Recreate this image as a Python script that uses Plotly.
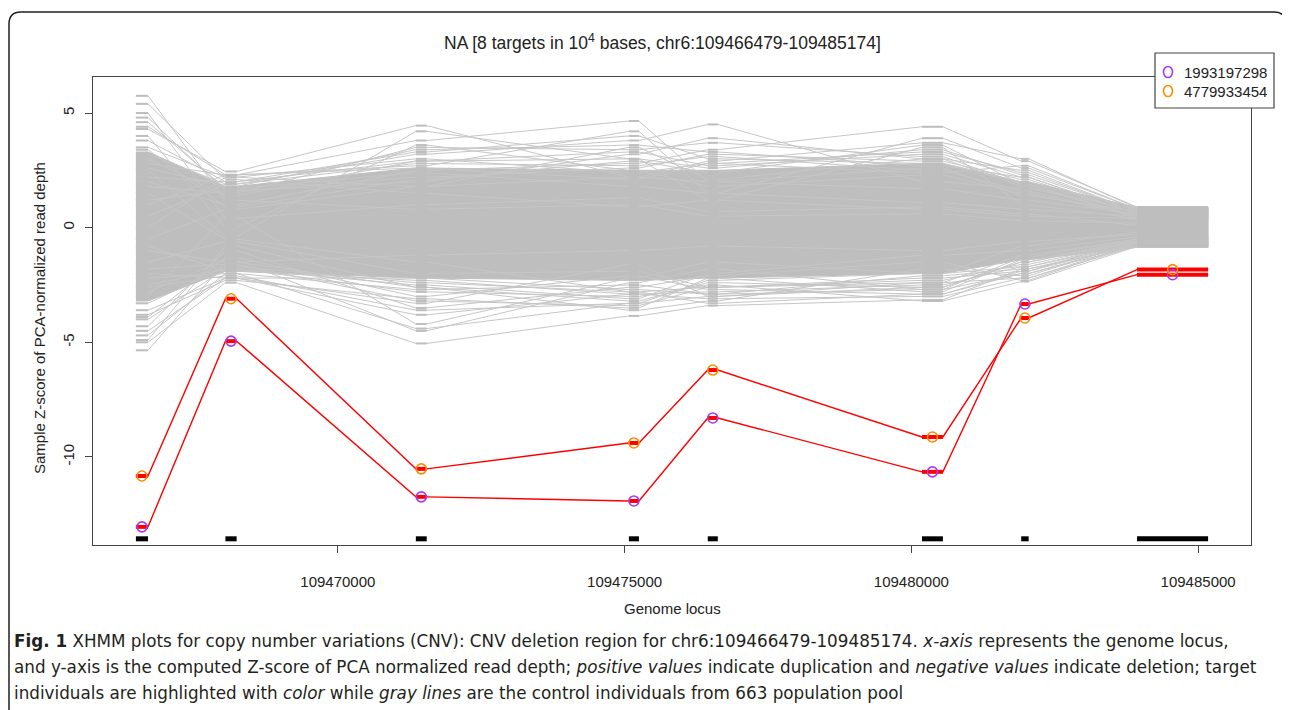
import plotly.graph_objects as go

# ---------------- data ----------------
target_start = [109466479, 109468040, 109471360, 109475075, 109476450, 109480185, 109481915, 109483935]
target_end   = [109466690, 109468235, 109471550, 109475250, 109476625, 109480550, 109482045, 109485174]

sample_names = ["1993197298", "4779933454"]
sample_1993197298 = [-13.05, -4.95, -11.74, -11.92, -8.30, -10.65, -3.33, -2.05]
sample_4779933454 = [-10.83, -3.10, -10.52, -9.39, -6.21, -9.13, -3.94, -1.83]

# dense core of the 663 control individuals (per target)
control_core_upper = [3.3, 1.8, 2.6, 2.5, 2.5, 2.8, 2.0, 0.88]
control_core_lower = [-3.2, -1.9, -2.2, -2.3, -2.2, -2.0, -1.4, -0.86]

# individual control lines visible outside the dense core
control_lines = [
    [5.75, 1.2, 0.8, 1.0, 0.5, 0.6, 0.3, 0.2],
    [5.4, 2.1, 1.5, 0.9, 1.2, 0.8, 0.5, 0.4],
    [5.0, 0.4, 1.0, 1.3, 0.7, 0.9, 0.6, 0.1],
    [4.6, 1.7, 2.4, 1.8, 1.5, 1.1, 0.8, 0.5],
    [4.3, 2.45, 4.45, 2.2, 2.0, 1.7, 1.2, 0.6],
    [-5.35, -1.5, -1.2, -1.0, -0.8, -1.0, -0.6, -0.3],
    [-5.0, -2.4, -5.05, -3.85, -3.4, -3.15, -1.8, -0.8],
    [-4.7, -2.0, -4.4, -3.3, -3.0, -2.4, -1.2, -0.5],
    [-4.3, -1.0, -3.5, -2.6, -2.1, -1.5, -2.3, -0.7],
    [-3.8, -2.3, -3.1, -3.5, -2.2, -2.8, -1.4, -0.6],
    [1.0, 2.3, 3.8, 4.65, 2.0, 2.6, 1.4, 0.7],
    [0.5, 1.9, 3.2, 3.8, 4.5, 2.0, 1.7, 0.8],
    [2.0, 1.0, 2.5, 2.8, 3.4, 4.4, 2.9, 0.9],
    [-0.5, 0.8, 1.8, 2.2, 2.9, 3.7, 3.0, 0.85],
    [1.5, -0.5, -1.5, -2.8, -3.3, -2.9, -2.0, -0.8],
    [-2.5, -1.8, -2.8, -3.0, -2.5, -3.2, -2.35, -0.82],
    [3.0, 1.4, 2.9, 3.3, 2.7, 3.2, 2.2, 0.6],
    [-1.5, -0.6, -2.0, -1.9, -2.6, -2.2, -1.9, -0.5],
    [2.5, -0.4, 4.2, 3.0, 1.2, 3.5, 1.0, 0.4],
    [-3.0, 0.5, -4.2, -2.2, -1.5, -2.0, -0.8, -0.2],
    [3.5, 2.2, 1.8, 3.5, 2.1, 3.0, 2.5, 0.7],
    [-2.0, -2.2, -3.3, -1.6, -3.0, -2.6, -1.5, -0.6],
    [4.0, 0.0, 3.6, 2.5, 1.8, 2.3, 1.5, 0.5],
    [-4.0, -1.8, -2.5, -3.1, -2.0, -1.2, -1.0, -0.4],
    [3.8, 2.0, 3.3, 4.0, 3.0, 2.8, 2.0, 0.6],
    [-3.6, -2.2, -3.8, -2.9, -2.8, -2.5, -1.7, -0.7],
    [4.8, 1.6, 2.0, 3.2, 3.9, 3.0, 1.8, 0.5],
    [-4.9, -0.8, -2.6, -3.6, -3.2, -1.8, -2.1, -0.6],
    [2.8, 2.3, 2.7, 4.2, 1.5, 3.9, 2.6, 0.8],
    [-2.8, -1.4, -4.5, -2.4, -1.8, -2.7, -1.3, -0.5],
    [3.2, 1.9, 2.8, 2.7, 3.1, 2.5, 1.6, 0.5],
    [-3.3, -1.7, -2.4, -2.8, -2.6, -2.3, -1.6, -0.6],
    [2.2, 2.0, 2.9, 3.0, 2.6, 3.4, 2.3, 0.7],
    [-2.2, -2.0, -2.7, -2.5, -2.9, -2.1, -1.8, -0.7],
    [1.2, 1.6, 2.2, 2.6, 3.2, 2.9, 2.1, 0.6],
    [-1.0, -1.5, -2.6, -3.2, -2.4, -2.6, -1.5, -0.5],
    [3.4, 0.9, 2.1, 2.9, 2.4, 3.6, 1.9, 0.4],
    [-3.9, -1.3, -3.0, -2.1, -2.7, -2.9, -1.9, -0.7],
    [0.0, 2.2, 3.0, 2.4, 2.8, 2.4, 2.7, 0.8],
    [-0.8, -1.9, -2.3, -2.9, -3.1, -3.0, -2.2, -0.8],
    [2.6, 1.8, 3.4, 3.6, 3.3, 2.7, 2.2, 0.6],
    [-2.6, -2.1, -3.6, -3.3, -2.3, -2.0, -1.7, -0.6],
    [4.4, 2.3, 2.6, 2.1, 2.8, 3.3, 2.4, 0.7],
    [-4.5, -2.2, -2.2, -2.7, -2.9, -2.7, -2.0, -0.7],
    [1.8, 1.5, 3.5, 3.4, 3.7, 3.1, 1.9, 0.5],
    [-1.8, -1.6, -3.2, -3.4, -2.6, -2.4, -2.2, -0.7],
]

x_tick_vals = [109470000, 109475000, 109480000, 109485000]
x_tick_text = ["109470000", "109475000", "109480000", "109485000"]
y_tick_vals = [-10, -5, 0, 5]
y_tick_text = ["-10", "-5", "0", "5"]

title_text = "NA [8 targets in 10<sup>4</sup> bases, chr6:109466479-109485174]"
x_title = "Genome locus"
y_title = "Sample Z-score of PCA-normalized read depth"
caption_lines = [
    "<b>Fig. 1</b> XHMM plots for copy number variations (CNV): CNV deletion region for chr6:109466479-109485174. <i>x-axis</i> represents the genome locus,",
    "and y-axis is the computed Z-score of PCA normalized read depth; <i>positive values</i> indicate duplication and <i>negative values</i> indicate deletion; target",
    "individuals are highlighted with <i>color</i> while <i>gray lines</i> are the control individuals from 663 population pool",
]

# ---------------- styling / layout constants ----------------
OFF = 8                      # page body margin of the browser
W, H = 1290 - OFF, 710 - OFF
PL, PR, PT, PB = 93, 1251, 77, 545   # plot area in page pixels
x_range = [109465731, 109485922]
y_range = [-13.84, 6.57]
target_bar_y = -13.57
GRAY = "#BEBEBE"
sample_colors = ["#A83AF0", "#FF8C00"]
FONT = "Liberation Sans, Arial, Helvetica"


def px2paper(px, py):
    return (px - PL) / (PR - PL), (PB - py) / (PB - PT)


def stepped(values):
    xs, ys = [], []
    for s, e, v in zip(target_start, target_end, values):
        xs += [s, e]
        ys += [v, v]
    return xs, ys


fig = go.Figure()

# dense control core as a filled band
ux, uy = stepped(control_core_upper)
lx, ly = stepped(control_core_lower)
fig.add_trace(go.Scatter(x=ux + lx[::-1], y=uy + ly[::-1], fill="toself", fillcolor=GRAY,
                         line=dict(color=GRAY, width=1), mode="lines", hoverinfo="skip",
                         showlegend=False))

# individual control lines
cx, cy = [], []
for line in control_lines:
    xs, ys = stepped(line)
    cx += xs + [None]
    cy += ys + [None]
fig.add_trace(go.Scatter(x=cx, y=cy, mode="lines", line=dict(color="#C6C6C6", width=1),
                         hoverinfo="skip", showlegend=False))
# gray ticks at targets
tx, ty = [], []
for line in control_lines:
    for s, e, v in zip(target_start, target_end, line):
        tx += [s, e, None]
        ty += [v, v, None]
fig.add_trace(go.Scatter(x=tx, y=ty, mode="lines", line=dict(color=GRAY, width=2),
                         hoverinfo="skip", showlegend=False))

# target samples
centers = [(s + e) / 2 for s, e in zip(target_start, target_end)]
samples = [sample_1993197298, sample_4779933454]
for vals in samples:
    xs, ys = stepped(vals)
    fig.add_trace(go.Scatter(x=xs, y=ys, mode="lines", line=dict(color="#FF0000", width=1.4),
                             hoverinfo="skip", showlegend=False))
    sx, sy = [], []
    for s, e, v in zip(target_start, target_end, vals):
        sx += [s, e, None]
        sy += [v, v, None]
    fig.add_trace(go.Scatter(x=sx, y=sy, mode="lines", line=dict(color="#FF0000", width=4),
                             hoverinfo="skip", showlegend=False))
for name, vals, col in zip(sample_names, samples, sample_colors):
    fig.add_trace(go.Scatter(x=centers, y=vals, mode="markers", name=name, showlegend=False,
                             marker=dict(symbol="circle-open", size=10, color=col,
                                         line=dict(width=1.6, color=col))))

# target positions
bx, by = [], []
for s, e in zip(target_start, target_end):
    bx += [s, e, None]
    by += [target_bar_y, target_bar_y, None]
fig.add_trace(go.Scatter(x=bx, y=by, mode="lines", line=dict(color="black", width=5),
                         hoverinfo="skip", showlegend=False))

# ---------------- annotations ----------------
annotations = []
tx_, ty_ = px2paper(662, 42)
annotations.append(dict(text=title_text, x=tx_, y=ty_, xref="paper", yref="paper",
                        showarrow=False, xanchor="center", yanchor="middle",
                        font=dict(family=FONT, size=17.5, color="#222")))
gx, gy = px2paper(672, 608)
annotations.append(dict(text=x_title, x=gx, y=gy, xref="paper", yref="paper",
                        showarrow=False, xanchor="center", yanchor="middle",
                        font=dict(family=FONT, size=15, color="#222")))
yx, yy = px2paper(39, 318)
annotations.append(dict(text=y_title, x=yx, y=yy, xref="paper", yref="paper",
                        showarrow=False, xanchor="center", yanchor="middle", textangle=-90,
                        font=dict(family=FONT, size=15, color="#222")))
for i, line in enumerate(caption_lines):
    cx_, cy_ = px2paper(12, 641 + 26 * i)
    annotations.append(dict(text=line, x=cx_, y=cy_, xref="paper", yref="paper",
                            showarrow=False, xanchor="left", yanchor="middle",
                            font=dict(family="DejaVu Sans", size=16.8, color="#231F20")))

# rounded outer frame (bottom edge lies below the visible page)
def P(px, py):
    a, b = px2paper(px, py)
    return f"{a:.5f},{b:.5f}"

L, R, T, B, r = 9, 1286, 12, 730, 12
path = (f"M {P(L + r, T)} L {P(R - r, T)} Q {P(R, T)} {P(R, T + r)} L {P(R, B - r)} "
        f"Q {P(R, B)} {P(R - r, B)} L {P(L + r, B)} Q {P(L, B)} {P(L, B - r)} "
        f"L {P(L, T + r)} Q {P(L, T)} {P(L + r, T)} Z")
shapes = [dict(type="path", path=path, xref="paper", yref="paper",
               line=dict(color="#231F20", width=1.5), layer="below")]

# legend box (drawn like R's legend)
bx0, by0 = px2paper(1155, 53)
bx1, by1 = px2paper(1274, 108)
shapes.append(dict(type="rect", x0=bx0, y0=by1, x1=bx1, y1=by0, xref="paper", yref="paper",
                   fillcolor="white", line=dict(color="#444", width=1.2), layer="above"))
for i, (name, col) in enumerate(zip(sample_names, sample_colors)):
    ey = 72 + 19 * i
    ex, eyp = px2paper(1168, ey)
    shapes.append(dict(type="circle", xref="paper", yref="paper", xsizemode="pixel",
                       ysizemode="pixel", xanchor=ex, yanchor=eyp, x0=-4.5, x1=4.5,
                       y0=-5.5, y1=5.5, line=dict(color=col, width=1.6), layer="above"))
    lx_, ly_ = px2paper(1182, ey)
    annotations.append(dict(text=name, x=lx_, y=ly_, xref="paper", yref="paper",
                            showarrow=False, xanchor="left", yanchor="middle",
                            font=dict(family=FONT, size=15, color="#222")))

fig.update_layout(
    width=W, height=H,
    margin=dict(l=PL - OFF, r=W - (PR - OFF), t=PT - OFF, b=H - (PB - OFF), pad=0),
    paper_bgcolor="white", plot_bgcolor="white",
    annotations=annotations, shapes=shapes,
    showlegend=False,
    xaxis=dict(range=x_range, tickvals=x_tick_vals, ticktext=x_tick_text,
               showgrid=False, zeroline=False, showline=True, mirror=True,
               linecolor="#444", linewidth=1.2, ticks="outside", ticklen=7,
               tickcolor="#444", ticklabelstandoff=16,
               tickfont=dict(family=FONT, size=15, color="#222")),
    yaxis=dict(range=y_range, tickvals=y_tick_vals, ticktext=y_tick_text,
               showgrid=False, zeroline=False, showline=True, mirror=True,
               linecolor="#444", linewidth=1.2, ticks="outside", ticklen=7,
               tickcolor="#444", tickangle=-90, ticklabelstandoff=5,
               tickfont=dict(family=FONT, size=15, color="#222")),
)

fig.write_html("out.html")
